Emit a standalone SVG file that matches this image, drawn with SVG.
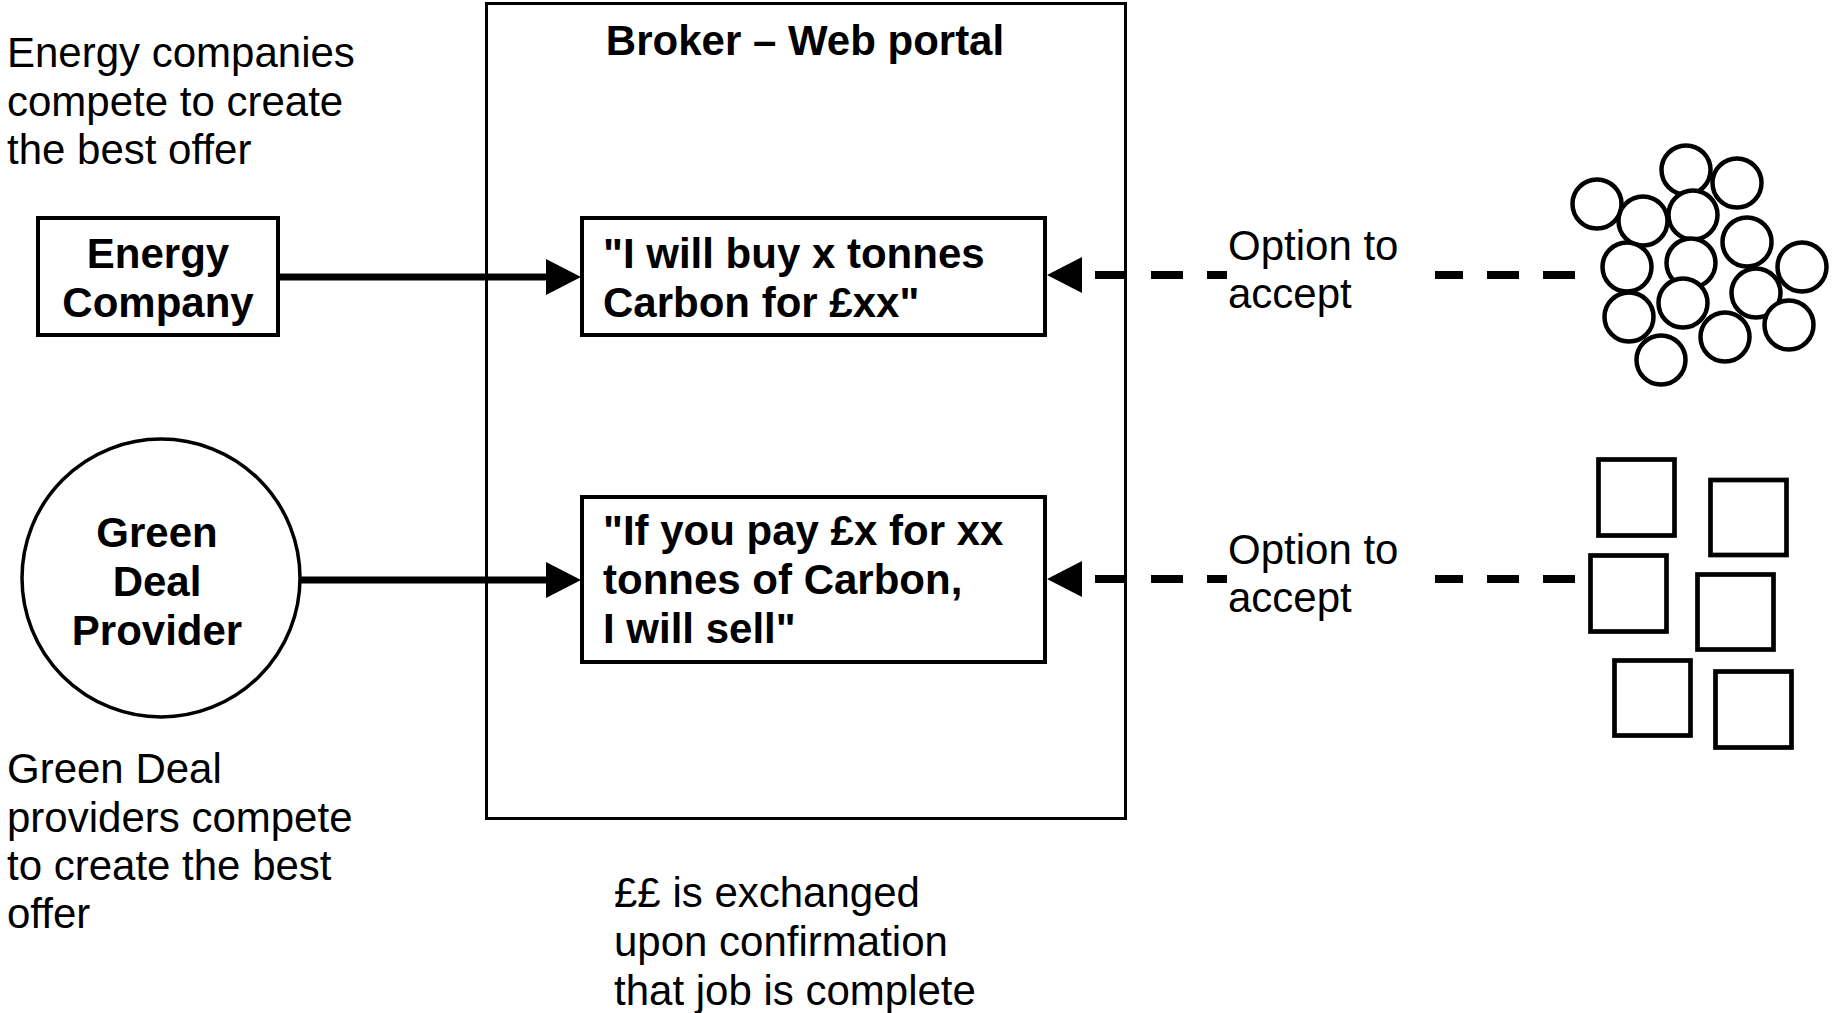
<svg xmlns="http://www.w3.org/2000/svg" width="1832" height="1013" viewBox="0 0 1832 1013">
  <style>
    text { font-family: "Liberation Sans", Arial, sans-serif; font-size: 42px; fill: #000; }
    .b { font-weight: bold; }
    .mid { text-anchor: middle; }
    .box { fill: #fff; stroke: #000; stroke-width: 4; }
    .frame { fill: none; stroke: #000; stroke-width: 3; }
    .solid { stroke: #000; stroke-width: 7; fill: none; }
    .dash { stroke: #000; stroke-width: 8; fill: none; stroke-dasharray: 32 24; }
    .head { fill: #000; }
    .dot { fill: #fff; stroke: #000; stroke-width: 4.5; }
    .sq { fill: #fff; stroke: #000; stroke-width: 4.7; }
  </style>

  <rect width="1832" height="1013" fill="#fff"/>

  <!-- side notes -->
  <g id="note-energy">
    <text x="7" y="67">Energy companies</text>
    <text x="7" y="116">compete to create</text>
    <text x="7" y="164">the best offer</text>
  </g>
  <g id="note-greendeal">
    <text x="7" y="783">Green Deal</text>
    <text x="7" y="832">providers compete</text>
    <text x="7" y="880">to create the best</text>
    <text x="7" y="928">offer</text>
  </g>
  <g id="note-payment">
    <text x="614" y="907">££ is exchanged</text>
    <text x="614" y="956">upon confirmation</text>
    <text x="614" y="1005">that job is complete</text>
  </g>

  <!-- broker portal container -->
  <g id="broker">
    <rect class="frame" x="486.5" y="3.5" width="639" height="815"/>
    <text class="b mid" x="805" y="55">Broker – Web portal</text>
  </g>

  <!-- connectors -->
  <g id="connectors">
    <line class="solid" x1="278" y1="277" x2="548" y2="277"/>
    <polygon class="head" points="546,259 581,277 546,295"/>
    <line class="solid" x1="299" y1="580" x2="548" y2="580"/>
    <polygon class="head" points="546,562 581,580 546,598"/>

    <line class="dash" x1="1575" y1="275" x2="1095" y2="275"/>
    <polygon class="head" points="1082,257 1047,275 1082,293"/>
    <line class="dash" x1="1575" y1="579" x2="1095" y2="579"/>
    <polygon class="head" points="1082,561 1047,579 1082,597"/>

    <g id="label-accept-1">
      <rect x="1227" y="255" width="208" height="40" fill="#fff"/>
      <text x="1228" y="260">Option to</text>
      <text x="1228" y="308">accept</text>
    </g>
    <g id="label-accept-2">
      <rect x="1227" y="559" width="208" height="40" fill="#fff"/>
      <text x="1228" y="564">Option to</text>
      <text x="1228" y="612">accept</text>
    </g>
  </g>

  <!-- nodes -->
  <g id="energy-company">
    <rect class="box" x="38" y="218" width="240" height="117"/>
    <text class="b mid" x="158" y="268">Energy</text>
    <text class="b mid" x="158" y="317">Company</text>
  </g>

  <g id="green-deal-provider">
    <circle cx="161" cy="578" r="139" fill="#fff" stroke="#000" stroke-width="3.5"/>
    <text class="b mid" x="157" y="547">Green</text>
    <text class="b mid" x="157" y="596">Deal</text>
    <text class="b mid" x="157" y="645">Provider</text>
  </g>

  <g id="buy-offer">
    <rect class="box" x="582" y="218" width="463" height="117"/>
    <text class="b" x="603" y="268">"I will buy x tonnes</text>
    <text class="b" x="603" y="317">Carbon for £xx"</text>
  </g>

  <g id="sell-offer">
    <rect class="box" x="582" y="497" width="463" height="165"/>
    <text class="b" x="603" y="545">"If you pay £x for xx</text>
    <text class="b" x="603" y="594">tonnes of Carbon,</text>
    <text class="b" x="603" y="643">I will sell"</text>
  </g>

  <!-- crowd of buyers (circles) -->
  <g id="buyers">
    <circle class="dot" cx="1686" cy="170" r="24.5"/>
    <circle class="dot" cx="1737" cy="183" r="24.5"/>
    <circle class="dot" cx="1597" cy="204" r="24.5"/>
    <circle class="dot" cx="1643" cy="221" r="24.5"/>
    <circle class="dot" cx="1693" cy="215" r="24.5"/>
    <circle class="dot" cx="1747" cy="242" r="24.5"/>
    <circle class="dot" cx="1627" cy="267" r="24.5"/>
    <circle class="dot" cx="1691" cy="263" r="24.5"/>
    <circle class="dot" cx="1802" cy="267" r="24.5"/>
    <circle class="dot" cx="1756" cy="293" r="24.5"/>
    <circle class="dot" cx="1629" cy="317" r="24.5"/>
    <circle class="dot" cx="1683" cy="303" r="24.5"/>
    <circle class="dot" cx="1789" cy="325" r="24.5"/>
    <circle class="dot" cx="1725" cy="337" r="24.5"/>
    <circle class="dot" cx="1661" cy="360" r="24.5"/>
  </g>

  <!-- group of sellers (squares) -->
  <g id="sellers">
    <rect class="sq" x="1598.5" y="459.5" width="76" height="76"/>
    <rect class="sq" x="1710.5" y="480" width="76" height="75"/>
    <rect class="sq" x="1590.5" y="555.5" width="76" height="76"/>
    <rect class="sq" x="1697.5" y="574.5" width="76" height="75"/>
    <rect class="sq" x="1614.5" y="660.5" width="76" height="75"/>
    <rect class="sq" x="1715.5" y="671.5" width="76" height="76"/>
  </g>
</svg>
